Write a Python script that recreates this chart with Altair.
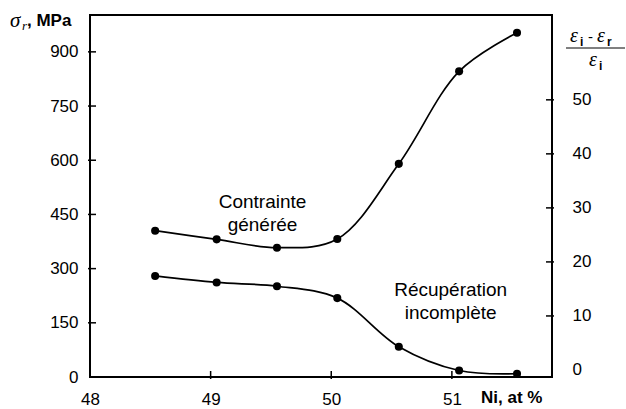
import altair as alt
import pandas as pd

# ---- data ----
ni = [48.54, 49.05, 49.55, 50.05, 50.56, 51.06, 51.54]
contrainte = [405, 381, 358, 382, 590, 846, 953]          # sigma_r, MPa (left axis)
recuperation = [17.4, 16.2, 15.5, 13.3, 4.3, -0.1, -0.7]  # (eps_i - eps_r)/eps_i (right axis)
x_ticks = [48, 49, 50, 51]
left_ticks = [0, 150, 300, 450, 600, 750, 900]
right_ticks = [0, 10, 20, 30, 40, 50]
label_text = ["Contrainte", "générée", "Récupération", "incomplète"]
label_x = [49.43, 49.43, 50.99, 50.99]
label_y = [485, 421, 241, 177]

W, H = 462, 362
FONT = "Liberation Sans"
SERIF = "Liberation Serif"

xs = alt.Scale(domain=[48, 51.83], nice=False, zero=False)
yl = alt.Scale(domain=[0, 1002], nice=False)
yr = alt.Scale(domain=[-1.3, 65.7], nice=False, zero=False)

df_a = pd.DataFrame({"ni": ni, "v": contrainte})
df_b = pd.DataFrame({"ni": ni, "v": recuperation})
df_lab = pd.DataFrame({"x": label_x, "y": label_y, "t": label_text})

x_axis = alt.Axis(values=x_ticks, format="d", tickSize=0, labelPadding=14, domain=False,
                  grid=False, labelFlush=False, labelFont=FONT, labelFontSize=17,
                  labelColor="black", title="")
left_axis = alt.Axis(values=left_ticks, tickSize=0, labelPadding=12, domain=False, grid=False,
                     labelFont=FONT, labelFontSize=17, labelColor="black", title="")
right_axis = alt.Axis(values=right_ticks, orient="right", tickSize=0, labelPadding=20,
                      domain=False, grid=False, labelFont=FONT, labelFontSize=17,
                      labelColor="black", title="")

line_a = alt.Chart(df_a).mark_line(interpolate="catmull-rom", color="black", strokeWidth=1.7).encode(
    x=alt.X("ni:Q", scale=xs, axis=x_axis),
    y=alt.Y("v:Q", scale=yl, axis=left_axis),
)
pts_a = alt.Chart(df_a).mark_circle(size=65, color="black", opacity=1).encode(
    x=alt.X("ni:Q", scale=xs), y=alt.Y("v:Q", scale=yl)
)
lt = alt.Chart(pd.DataFrame({"t": left_ticks[1:]})).mark_rule(color="black", strokeWidth=1.5).encode(
    y=alt.Y("t:Q", scale=yl), x=alt.value(-2), x2=alt.value(6)
)
bt = alt.Chart(pd.DataFrame({"t": x_ticks[1:]})).mark_rule(color="black", strokeWidth=1.5).encode(
    x=alt.X("t:Q", scale=xs), y=alt.value(H - 6), y2=alt.value(H + 2)
)
labels = alt.Chart(df_lab).mark_text(font=FONT, fontSize=19, color="black").encode(
    x=alt.X("x:Q", scale=xs), y=alt.Y("y:Q", scale=yl), text="t:N"
)


def txt(s, x, y, size=16, font=FONT, style="normal", weight="normal", align="left"):
    return alt.Chart(pd.DataFrame({"s": [s]})).mark_text(
        font=font, fontSize=size, fontStyle=style, fontWeight=weight, align=align,
        baseline="middle", color="black"
    ).encode(text="s:N", x=alt.value(x), y=alt.value(y))


annots = [
    txt("σ", -80, 6, size=21, font=SERIF, style="italic"),
    txt("r", -68, 11, size=13, font=SERIF, style="italic"),
    txt(", MPa", -63, 6, size=17, weight="bold"),
    txt("Ni, at %", 391, 383, size=17, weight="bold"),
    txt("ε", 480, 21, size=20, font=SERIF, style="italic"),
    txt("i", 490, 27, size=12, weight="bold"),
    txt("-", 498, 22, size=15),
    txt("ε", 507, 21, size=20, font=SERIF, style="italic"),
    txt("r", 517, 27, size=12, weight="bold"),
    txt("ε", 499, 45, size=20, font=SERIF, style="italic"),
    txt("i", 509, 51, size=12, weight="bold"),
]
frac_line = alt.Chart(pd.DataFrame({"a": [0]})).mark_rule(color="black", strokeWidth=1).encode(
    x=alt.value(476), x2=alt.value(535), y=alt.value(33)
)

layer_a = alt.layer(line_a, pts_a, lt, bt, labels, frac_line, *annots)

line_b = alt.Chart(df_b).mark_line(interpolate="catmull-rom", color="black", strokeWidth=1.7).encode(
    x=alt.X("ni:Q", scale=xs),
    y=alt.Y("v:Q", scale=yr, axis=right_axis),
)
pts_b = alt.Chart(df_b).mark_circle(size=65, color="black", opacity=1).encode(
    x=alt.X("ni:Q", scale=xs), y=alt.Y("v:Q", scale=yr)
)
rt = alt.Chart(pd.DataFrame({"t": right_ticks[1:]})).mark_rule(color="black", strokeWidth=1.5).encode(
    y=alt.Y("t:Q", scale=yr), x=alt.value(W - 6), x2=alt.value(W + 2)
)
layer_b = alt.layer(line_b, pts_b, rt)

chart = alt.layer(layer_a, layer_b).resolve_scale(y="independent").properties(
    width=W, height=H,
    padding={"left": 90, "top": 15, "right": 74, "bottom": 32},
    autosize="none",
    background="white",
).configure_view(stroke="black", strokeWidth=2)

chart.save("out.html", embed_options={"renderer": "svg", "actions": False})
